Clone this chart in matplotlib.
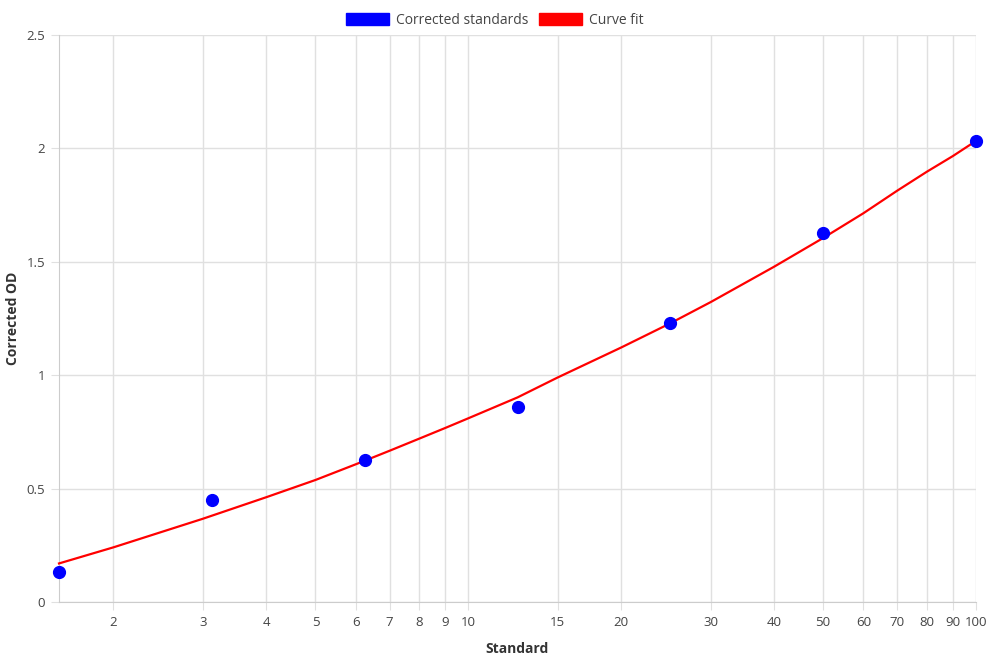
import matplotlib.pyplot as plt
from matplotlib.patches import Patch
from matplotlib.ticker import FixedLocator, FixedFormatter, NullLocator

plt.rcParams['font.family'] = ['Open Sans', 'DejaVu Sans']

# standards (x) and corrected OD (y)
std_x = [1.5625, 3.125, 6.25, 12.5, 25, 50, 100]
std_y = [0.132, 0.45, 0.626, 0.86, 1.23, 1.627, 2.033]

# curve fit
fit_x = [1.5625, 2, 3, 4, 5, 6, 7, 8, 9, 10, 12.5, 15, 20, 25, 30, 40, 50, 60, 70, 80, 90, 100]
fit_y = [0.17, 0.241, 0.367, 0.462, 0.538, 0.607, 0.667, 0.72, 0.767, 0.81, 0.902, 0.99,
         1.122, 1.229, 1.322, 1.478, 1.605, 1.714, 1.814, 1.897, 1.966, 2.033]

x_ticks = [2, 3, 4, 5, 6, 7, 8, 9, 10, 15, 20, 30, 40, 50, 60, 70, 80, 90, 100]
y_ticks = [0, 0.5, 1, 1.5, 2, 2.5]
y_labels = ['0', '0.5', '1', '1.5', '2', '2.5']

grid_c = '#e0e0e0'
text_c = '#444444'

fig = plt.figure(figsize=(9.9, 6.6), dpi=100)
ax = fig.add_axes([59/990, 1 - 602/660, (976 - 59)/990, (602 - 35)/660])

ax.plot(fit_x, fit_y, color='red', lw=1.6, zorder=3, clip_on=False)
ax.plot(std_x, std_y, 'o', color='blue', ms=8.5, zorder=4, clip_on=False)

ax.set_xscale('log')
ax.set_xlim(1.5625, 100)
ax.set_ylim(0, 2.5)

ax.xaxis.set_major_locator(FixedLocator(x_ticks))
ax.xaxis.set_major_formatter(FixedFormatter([str(t) for t in x_ticks]))
ax.xaxis.set_minor_locator(NullLocator())
ax.set_yticks(y_ticks)
ax.set_yticklabels(y_labels)

ax.grid(True, color=grid_c, lw=1)
ax.set_axisbelow(True)
for s in ['top', 'right']:
    ax.spines[s].set_visible(False)
for s in ['left', 'bottom']:
    ax.spines[s].set_color('#cccccc')
ax.tick_params(length=6, color=grid_c, labelsize=9.5, labelcolor=text_c, pad=4)

ax.set_xlabel('Standard', fontsize=10, fontweight='bold', color='#333333')
ax.xaxis.set_label_coords(0.5, -0.07)
ax.set_ylabel('Corrected OD', fontsize=10, fontweight='bold', color='#333333')
ax.yaxis.set_label_coords(-0.043, 0.5)

handles = [Patch(facecolor='blue', edgecolor='blue'), Patch(facecolor='red', edgecolor='red')]
fig.legend(handles, ['Corrected standards', 'Curve fit'], loc='upper center',
           bbox_to_anchor=(0.5, 1.0), ncol=2, frameon=False, fontsize=10,
           handlelength=3.1, handleheight=1.0, handletextpad=0.5, columnspacing=0.8,
           labelcolor=text_c)

fig.savefig('out.png', dpi=100)
